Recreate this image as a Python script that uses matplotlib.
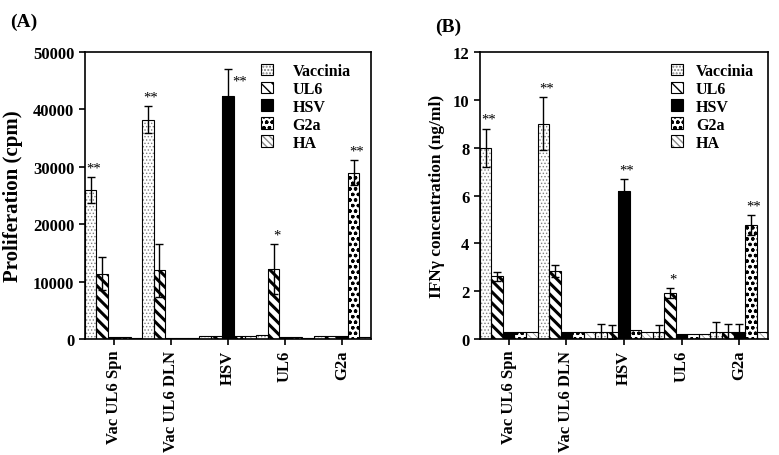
import numpy as np
import matplotlib
matplotlib.use('Agg')
import matplotlib.pyplot as plt

# группы (подписи оси X) и серии (легенда)
groups = ['Vac UL6 Spn', 'Vac UL6 DLN', 'HSV', 'UL6', 'G2a']
series = ['Vaccinia', 'UL6', 'HSV', 'G2a', 'HA']

# (A) пролиферация, cpm
prolif_vaccinia = [26000, 38200, 500, 700, 600]
prolif_ul6 = [11400, 12000, 500, 12200, 600]
prolif_hsv = [400, 200, 42300, 400, 600]
prolif_g2a = [400, 200, 500, 400, 29000]
prolif_ha = [200, 200, 500, 200, 300]

prolif_vaccinia_err = [2300, 2300, 0, 0, 0]
prolif_ul6_err = [2900, 4600, 0, 4400, 0]
prolif_hsv_err = [0, 0, 4700, 0, 0]
prolif_g2a_err = [0, 0, 0, 0, 2100]
prolif_ha_err = [0, 0, 0, 0, 0]

# (B) концентрация IFNγ, ng/ml
ifn_vaccinia = [8.0, 9.0, 0.3, 0.3, 0.3]
ifn_ul6 = [2.62, 2.85, 0.3, 1.92, 0.3]
ifn_hsv = [0.28, 0.3, 6.2, 0.22, 0.3]
ifn_g2a = [0.28, 0.3, 0.4, 0.2, 4.77]
ifn_ha = [0.28, 0.3, 0.3, 0.2, 0.3]

ifn_vaccinia_err = [0.8, 1.1, 0.32, 0.3, 0.4]
ifn_ul6_err = [0.2, 0.25, 0.3, 0.2, 0.33]
ifn_hsv_err = [0, 0, 0.5, 0, 0.33]
ifn_g2a_err = [0, 0, 0, 0, 0.42]
ifn_ha_err = [0, 0, 0, 0, 0]

# звёздочки значимости: (группа, серия, текст)
prolif_stars = [(0, 0, '**'), (1, 0, '**'), (2, 2, '**'), (3, 1, '*'), (4, 3, '**')]
ifn_stars = [(0, 0, '**'), (1, 0, '**'), (2, 2, '**'), (3, 1, '*'), (4, 3, '**')]

# стиль серий: заливка, штриховка, цвет штриховки, толщина штриховки
styles = [
    ('white', '.....', '#808080', 0.6),
    ('white', '\\\\\\', 'black', 2.2),
    ('black', None, 'black', 1.0),
    ('white', 'ooo', 'black', 0.9),
    ('white', '\\\\\\\\\\', '#8a8a8a', 0.5),
]

plt.rcParams['font.family'] = ['Liberation Serif', 'DejaVu Serif']
plt.rcParams['font.weight'] = 'bold'
plt.rcParams['axes.labelweight'] = 'bold'
plt.rcParams['font.size'] = 12

fig = plt.figure(figsize=(7.79, 4.56), dpi=100)
axA = fig.add_axes([0.109, 0.254, 0.367, 0.630])
axB = fig.add_axes([0.616, 0.254, 0.370, 0.630])

width = 0.2
x = np.arange(len(groups))


def draw_panel(ax, values, errors, stars, ymax, yticks, ylabel, lab_size, lab_x,
               leg_x, leg_pad, side_star=None):
    handles = []
    for k, (vals, errs) in enumerate(zip(values, errors)):
        face, hatch, hcol, hlw = styles[k]
        pos = x - 0.4 + k * width
        with plt.rc_context({'hatch.linewidth': hlw, 'hatch.color': hcol}):
            b1 = ax.bar(pos, vals, width, color=face, edgecolor=hcol,
                        hatch=hatch, linewidth=0, zorder=2)
        b2 = ax.bar(pos, vals, width, fill=False, edgecolor='black',
                    linewidth=0.8, zorder=3)
        errs = np.array(errs, dtype=float)
        m = errs > 0
        ax.errorbar(pos[m], np.array(vals)[m], yerr=errs[m], fmt='none',
                    ecolor='black', elinewidth=1.0, capsize=3, capthick=1.0,
                    zorder=4)
        handles.append((b1.patches[0], b2.patches[0]))

    for g, s, txt in stars:
        top = values[s][g] + errors[s][g]
        off = (3, 9)
        if side_star is not None and (g, s) == side_star:
            off = (12, -12)
        ax.annotate(txt, (g - 0.4 + s * width, top), xytext=off,
                    textcoords='offset pixels', ha='center', va='center',
                    fontsize=10.5, fontweight='normal', zorder=5)

    ax.set_xlim(-0.5, 4.5)
    ax.set_ylim(0, ymax)
    ax.set_yticks(yticks)
    ax.set_xticks(x)
    ax.set_xticklabels(groups, rotation=90)
    ax.set_ylabel(ylabel, fontsize=lab_size)
    ax.yaxis.set_label_coords(lab_x, 0.5)
    ax.tick_params(direction='out', length=4, width=1.2)
    for sp in ax.spines.values():
        sp.set_linewidth(1.2)
    leg = ax.legend(handles, series, loc='upper right', frameon=False,
                    handlelength=0.75, handleheight=0.75, handletextpad=leg_pad,
                    labelspacing=0.12, borderaxespad=0.3, fontsize=11.5,
                    bbox_to_anchor=(leg_x, 1.0))
    return leg


draw_panel(axA,
           [prolif_vaccinia, prolif_ul6, prolif_hsv, prolif_g2a, prolif_ha],
           [prolif_vaccinia_err, prolif_ul6_err, prolif_hsv_err, prolif_g2a_err, prolif_ha_err],
           prolif_stars, 50000, [0, 10000, 20000, 30000, 40000, 50000],
           'Proliferation (cpm)', 15, -0.217, 0.969, 1.2, side_star=(2, 2))

draw_panel(axB,
           [ifn_vaccinia, ifn_ul6, ifn_hsv, ifn_g2a, ifn_ha],
           [ifn_vaccinia_err, ifn_ul6_err, ifn_hsv_err, ifn_g2a_err, ifn_ha_err],
           ifn_stars, 12, [0, 2, 4, 6, 8, 10, 12],
           'IFNγ concentration (ng/ml)', 12.5, -0.122, 0.99, 0.8)

fig.text(0.013, 0.97, '(A)', fontsize=14, va='top')
fig.text(0.558, 0.96, '(B)', fontsize=14, va='top')

fig.savefig('out.png', dpi=100)
